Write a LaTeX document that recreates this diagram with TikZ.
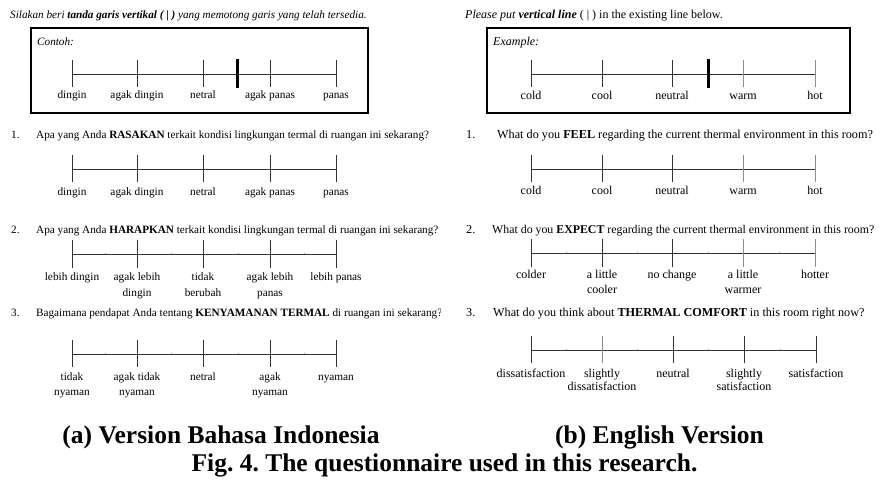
\documentclass[tikz,border=0pt]{standalone}
\usepackage{fontspec}
\setmainfont{Liberation Serif}
\frenchspacing
\begin{document}
\begin{tikzpicture}[x=1pt,y=-1pt,
  txtid/.style={anchor=base west, inner sep=0pt, font=\fontsize{11.2}{13}\selectfont},
  txten/.style={anchor=base west, inner sep=0pt, font=\fontsize{12.2}{14}\selectfont},
  txtennarrow/.style={anchor=base west, inner sep=0pt, font=\fontsize{11.85}{14}\selectfont},
  hdrid/.style={anchor=base west, inner sep=0pt, font=\fontsize{11.2}{13}\selectfont},
  hdren/.style={anchor=base west, inner sep=0pt, font=\fontsize{12}{14}\selectfont},
  lblid/.style={anchor=base, inner sep=0pt, align=center, font=\fontsize{11.3}{15.5}\selectfont},
  lblen/.style={anchor=base, inner sep=0pt, align=center, font=\fontsize{12}{15}\selectfont},
  lblentight/.style={lblen, font=\fontsize{12}{13.5}\selectfont},
  scaleline/.style={line width=0.8pt, draw=black!80},
  tickline/.style={line width=0.8pt, draw=black!80},
  greytick/.style={line width=0.9pt, draw=black!45},
  midtick/.style={line width=0.6pt, draw=black!35},
  framebox/.style={line width=2.6pt, draw=black},
  markerline/.style={line width=3pt, draw=black},
  captxt/.style={anchor=base, inner sep=0pt, font=\fontsize{25.5}{28}\selectfont\bfseries}
]
\useasboundingbox (0,0) rectangle (881,480);
\fill[white] (0,0) rectangle (881,480);

% ---------------- LEFT PANEL ----------------
\node[hdrid] (lhead) at (10,18.5) {\itshape Silakan beri \textbf{tanda garis vertikal ( | )} yang memotong garis yang telah tersedia.};
\draw[framebox] (31,28) rectangle (368,113);
\node[hdrid] (lcontoh) at (37,45) {\itshape Contoh:};
% example scale
\draw[scaleline] (72,74) -- (336,74);
\foreach \x in {72,137,203,270,336} \draw[tickline] (\x,60) -- (\x,87);
\draw[markerline] (237,59) -- (237,88);
\node[lblid] (lel1) at (72,98) {dingin};
\node[lblid] (lel2) at (137,98) {agak dingin};
\node[lblid] (lel3) at (203,98) {netral};
\node[lblid] (lel4) at (270,98) {agak panas};
\node[lblid] (lel5) at (336,98) {panas};

% Q1
\node[txtid] (lq1n) at (11,138) {1.};
\node[txtid] (lq1) at (36,138) {Apa yang Anda \textbf{RASAKAN} terkait kondisi lingkungan termal di ruangan ini sekarang?};
\draw[scaleline] (72,169) -- (336,169);
\foreach \x in {72,137,203,270,336} \draw[tickline] (\x,155) -- (\x,182);
\node[lblid] (l1l1) at (72,195) {dingin};
\node[lblid] (l1l2) at (137,195) {agak dingin};
\node[lblid] (l1l3) at (203,195) {netral};
\node[lblid] (l1l4) at (270,195) {agak panas};
\node[lblid] (l1l5) at (336,195) {panas};

% Q2
\node[txtid] (lq2n) at (11,233) {2.};
\node[txtid] (lq2) at (36,233) {Apa yang Anda \textbf{HARAPKAN} terkait kondisi lingkungan termal di ruangan ini sekarang?};
\draw[scaleline] (72,254) -- (336,254);
\foreach \x in {72,137,203,270,336} \draw[tickline] (\x,240) -- (\x,268);
\foreach \x in {105,171,238,304} \draw[midtick] (\x,252.5) -- (\x,254);
\node[lblid] (l2l1) at (72,280) {lebih dingin};
\node[lblid] (l2l2) at (137,296) {agak lebih\\dingin};
\node[lblid] (l2l3) at (203,296) {tidak\\berubah};
\node[lblid] (l2l4) at (270,296) {agak lebih\\panas};
\node[lblid] (l2l5) at (336,280) {lebih panas};

% Q3
\node[txtid] (lq3n) at (11,316) {3.};
\begin{scope}
\clip (0,290) rectangle (440,330);
\node[txtid] (lq3) at (36,316) {Bagaimana pendapat Anda tentang \textbf{KENYAMANAN TERMAL} di ruangan ini sekarang?};
\end{scope}
\draw[scaleline] (72,354) -- (336,354);
\foreach \x in {72,137,203,270,336} \draw[tickline] (\x,340) -- (\x,367);
\foreach \x in {105,171,238,304} \draw[midtick] (\x,352.5) -- (\x,354);
\node[lblid] (l3l1) at (72,395.5) {tidak\\nyaman};
\node[lblid] (l3l2) at (137,395.5) {agak tidak\\nyaman};
\node[lblid] (l3l3) at (203,380) {netral};
\node[lblid] (l3l4) at (270,395.5) {agak\\nyaman};
\node[lblid] (l3l5) at (336,380) {nyaman};

% ---------------- RIGHT PANEL ----------------
\node[hdren] (rhead) at (465,18.5) {\textit{Please put \textbf{vertical line}} ( | ) in the existing line below.};
\draw[framebox] (487,28) rectangle (850,113);
\node[hdren] (rexample) at (493,45) {\itshape Example:};
\draw[scaleline] (531,74) -- (815,74);
\foreach \x in {531,602,672} \draw[tickline] (\x,60) -- (\x,87);
\foreach \x in {743,815} \draw[greytick] (\x,60) -- (\x,87);
\draw[markerline] (708,59) -- (708,88);
\node[lblen] (rel1) at (531,99) {cold};
\node[lblen] (rel2) at (602,99) {cool};
\node[lblen] (rel3) at (672,99) {neutral};
\node[lblen] (rel4) at (743,99) {warm};
\node[lblen] (rel5) at (815,99) {hot};

% Q1
\node[txten] (rq1n) at (466,138) {1.};
\node[txten] (rq1) at (497,138) {What do you \textbf{FEEL} regarding the current thermal environment in this room?};
\draw[scaleline] (531,169) -- (815,169);
\foreach \x in {531,602,672} \draw[tickline] (\x,155) -- (\x,182);
\foreach \x in {743,815} \draw[greytick] (\x,155) -- (\x,182);
\node[lblen] (r1l1) at (531,194) {cold};
\node[lblen] (r1l2) at (602,194) {cool};
\node[lblen] (r1l3) at (672,194) {neutral};
\node[lblen] (r1l4) at (743,194) {warm};
\node[lblen] (r1l5) at (815,194) {hot};

% Q2
\node[txten] (rq2n) at (466,233) {2.};
\node[txtennarrow] (rq2) at (492,233) {What do you \textbf{EXPECT} regarding the current thermal environment in this room?};
\draw[scaleline] (531,253) -- (815,253);
\foreach \x in {531,602,672} \draw[tickline] (\x,239) -- (\x,267);
\foreach \x in {743,815} \draw[greytick] (\x,239) -- (\x,267);
\foreach \x in {566,637,708,779} \draw[midtick] (\x,251.5) -- (\x,253);
\node[lblen] (r2l1) at (531,278) {colder};
\node[lblen] (r2l2) at (602,293) {a little\\cooler};
\node[lblen] (r2l3) at (672,278) {no change};
\node[lblen] (r2l4) at (743,293) {a little\\warmer};
\node[lblen] (r2l5) at (815,278) {hotter};

% Q3
\node[txten] (rq3n) at (466,316) {3.};
\node[txten] (rq3) at (493,316) {What do you think about \textbf{THERMAL COMFORT} in this room right now?};
\draw[scaleline] (531,350) -- (816,350);
\foreach \x in {531,673,744,816} \draw[tickline] (\x,336) -- (\x,363);
\draw[greytick] (602,336) -- (602,363);
\foreach \x in {566,637,708,780} \draw[midtick] (\x,348.5) -- (\x,350);
\node[lblentight] (r3l1) at (531,377) {dissatisfaction};
\node[lblentight] (r3l2) at (602,390.5) {slightly\\dissatisfaction};
\node[lblentight] (r3l3) at (673,377) {neutral};
\node[lblentight] (r3l4) at (744,390.5) {slightly\\satisfaction};
\node[lblentight] (r3l5) at (816,377) {satisfaction};

% ---------------- CAPTIONS ----------------
\node[captxt] (capa) at (221,443) {(a) Version Bahasa Indonesia};
\node[captxt] (capb) at (659.5,443) {(b) English Version};
\node[captxt] (capfig) at (444.5,471) {Fig. 4. The questionnaire used in this research.};
\end{tikzpicture}
\end{document}
